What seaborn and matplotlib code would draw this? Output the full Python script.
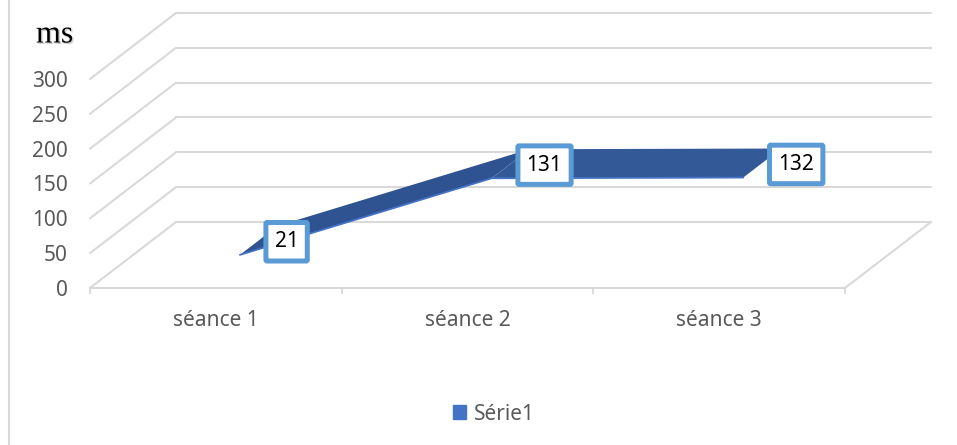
import matplotlib
matplotlib.use("Agg")
import matplotlib.pyplot as plt
import matplotlib.patheffects as pe
from matplotlib.patches import Patch
import pandas as pd
import seaborn as sns

categories = ["séance 1", "séance 2", "séance 3"]
values = [21, 131, 132]
series_name = "Série1"
y_ticks = [0, 50, 100, 150, 200, 250, 300]
unit_label = "ms"
label_shift_pt = [20, 24.5, 24.5]

GRID = "#D9D9D9"
TXT = "#595959"
W, H = 957, 445
# pixel frame of the front plane
L, R, B, T = 90, 845, 288, 79
# 3D shear, expressed as a data-unit offset for a full depth step
DEPTH_X = 86 / ((R - L) / 3)
DEPTH_Y = 66 / ((B - T) / 300)
Z0, Z1 = 0.28, 0.72


def proj(x, y, z):
    return x + z * DEPTH_X, y + z * DEPTH_Y


sns.set_theme(style="white")
plt.rcParams["font.family"] = ["Noto Sans", "DejaVu Sans"]
fig = plt.figure(figsize=(W / 100, H / 100), dpi=100, facecolor="white")
ax = fig.add_axes([L / W, 1 - B / H, (R - L) / W, (B - T) / H])
ax.set_xlim(-0.5, len(categories) - 0.5)
ax.set_ylim(0, y_ticks[-1])
ax.patch.set_alpha(0)
sns.despine(ax=ax, left=True, top=True, right=True)
ax.spines["bottom"].set_color(GRID)
ax.spines["bottom"].set_linewidth(1.5)

# y axis
ax.set_yticks(y_ticks)
ax.tick_params(axis="y", left=False, labelsize=15, labelcolor=TXT, pad=10)
# x axis
ax.set_xticks(range(len(categories)))
ax.set_xticklabels(categories)
ax.tick_params(axis="x", bottom=False, labelsize=15, labelcolor=TXT, pad=10)
ax.set_xticks([-0.5, 0.5, 1.5, 2.5], minor=True)
ax.tick_params(axis="x", which="minor", bottom=True, length=4.5, width=1.3, color=GRID)

# back wall gridlines and left side-wall lines
xa, xb = -0.5, len(categories) - 0.5
for v in y_ticks:
    bx0, by0 = proj(xa, v, 1)
    bx1, by1 = proj(xb, v, 1)
    ax.plot([xa, bx0], [v, by0], color=GRID, lw=1.5, clip_on=False, zorder=1)
    ax.plot([bx0, bx1], [by0, by1], color=GRID, lw=1.5, clip_on=False, zorder=1)
# right floor edge
fx, fy = proj(xb, 0, 1)
ax.plot([xb, fx], [0, fy], color=GRID, lw=1.5, clip_on=False, zorder=1)

# ribbon
seg_colors = ["#2F5290", "#335A96"]
for i in range(len(values) - 1):
    p = [proj(i, values[i], Z0), proj(i + 1, values[i + 1], Z0),
         proj(i + 1, values[i + 1], Z1), proj(i, values[i], Z1)]
    ax.fill([q[0] for q in p], [q[1] for q in p], color=seg_colors[i],
            lw=0, clip_on=False, zorder=3)

# lower ribbon edge
edge = pd.DataFrame({
    "x": [proj(i, v, Z0)[0] for i, v in enumerate(values)],
    "y": [proj(i, v, Z0)[1] for i, v in enumerate(values)],
})
sns.lineplot(data=edge, x="x", y="y", ax=ax, color="#4472C4", lw=1.3,
             legend=False, zorder=4, clip_on=False, errorbar=None)
ax.set_xlabel("")
ax.set_ylabel("")

# data labels
for i, v in enumerate(values):
    ax.annotate(str(v), xy=proj(i, v, 0.5), xytext=(label_shift_pt[i], -1),
                textcoords="offset points", ha="center", va="center",
                fontsize=15, color="black", zorder=6, annotation_clip=False,
                bbox=dict(boxstyle="round,pad=0.42,rounding_size=0.06", fc="white",
                          ec="#5B9BD5", lw=3.6))

# unit label
fig.text(36 / W, 1 - 35 / H, unit_label, family="Liberation Serif", fontsize=23,
         color="black", ha="left", va="center",
         path_effects=[pe.withSimplePatchShadow(offset=(1, -1), shadow_rgbFace="#888888", alpha=0.4)])

# legend
fig.legend(handles=[Patch(color="#4472C4", label=series_name)], loc="center",
           bbox_to_anchor=(494 / W, 1 - 414 / H), frameon=False, fontsize=15,
           labelcolor=TXT, handlelength=0.65, handleheight=0.65, handletextpad=0.38)

# chart frame (left edge)
fig.add_artist(plt.Line2D([8.5 / W, 8.5 / W], [0, 1], color=GRID, lw=1.5))

fig.savefig("out.png", dpi=100)
